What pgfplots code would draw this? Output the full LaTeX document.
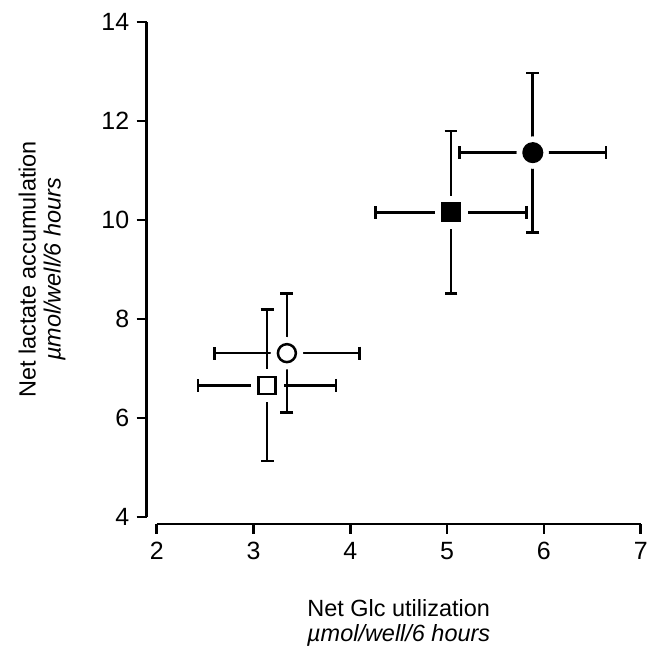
\documentclass[border=0pt]{standalone}
\usepackage{fontspec}
\setmainfont{Liberation Sans}
\usepackage{pgfplots}
\pgfplotsset{compat=1.18}
\begin{document}
\begin{tikzpicture}
\begin{axis}[
  at={(0,0)}, anchor=south west,
  scale only axis, width=485pt, height=496pt,
  xmin=2, xmax=7, ymin=4, ymax=14,
  axis x line=bottom, axis y line=left,
  axis line style={-, line width=2.6pt},
  axis x line shift=7pt, axis y line shift=10pt,
  xtick={2,3,4,5,6,7}, ytick={4,6,8,10,12,14},
  tick align=outside, major tick length=10pt,
  tick style={line width=2.6pt, black},
  /pgf/number format/assume math mode=true,
  tick label style={font=\fontsize{25}{25}\selectfont},
  xticklabel style={yshift=-5pt},
  yticklabel style={xshift=-4pt},
  clip=false,
  xlabel={Net Glc utilization\\\textit{µmol/well/6 hours}},
  ylabel={Net lactate accumulation\\\textit{µmol/well/6 hours}},
  xlabel style={at={(axis description cs:0.5,-0.214)}, anchor=center, align=center, font=\fontsize{23.5}{25}\selectfont},
  ylabel style={at={(axis description cs:-0.237,0.5)}, anchor=center, align=center, font=\fontsize{23.5}{25}\selectfont},
]
% error bars
\pgfplotsset{ebar/.style={only marks, mark=none, black, forget plot,
  error bars/.cd, x dir=both, x explicit, y dir=both, y explicit,
  error bar style={line width=2.7pt, black},
  error mark options={rotate=90, mark size=6.5pt, line width=2.7pt, black}}}
\addplot[ebar] table[x=x, y=y, x error=ex, y error=ey] {
x y ex ey
5.885 11.36 0.755 1.607
5.04 10.155 0.78 1.645
3.345 7.31 0.747 1.20
3.14 6.66 0.713 1.53
};
% halos
\addplot[only marks, mark=*, mark size=16pt, white, mark options={draw=white, fill=white}, forget plot] coordinates {(5.885,11.36) (3.345,7.31)};
\addplot[only marks, mark=square*, mark size=16pt, white, mark options={draw=white, fill=white}, forget plot] coordinates {(5.04,10.155) (3.14,6.66)};
% markers
\addplot[only marks, mark=*, mark size=9.8pt, mark options={draw=black, fill=black, line width=1.5pt}] coordinates {(5.885,11.36)};
\addplot[only marks, mark=square*, mark size=9.3pt, mark options={draw=black, fill=black, line width=1.5pt}] coordinates {(5.04,10.155)};
\addplot[only marks, mark=*, mark size=9pt, mark options={draw=black, fill=white, line width=2.5pt}] coordinates {(3.345,7.31)};
\addplot[only marks, mark=square*, mark size=8.5pt, mark options={draw=black, fill=white, line width=2.5pt}] coordinates {(3.14,6.66)};
\end{axis}
\path (-157pt,-133pt) rectangle (490pt,518pt);
\end{tikzpicture}
\end{document}
